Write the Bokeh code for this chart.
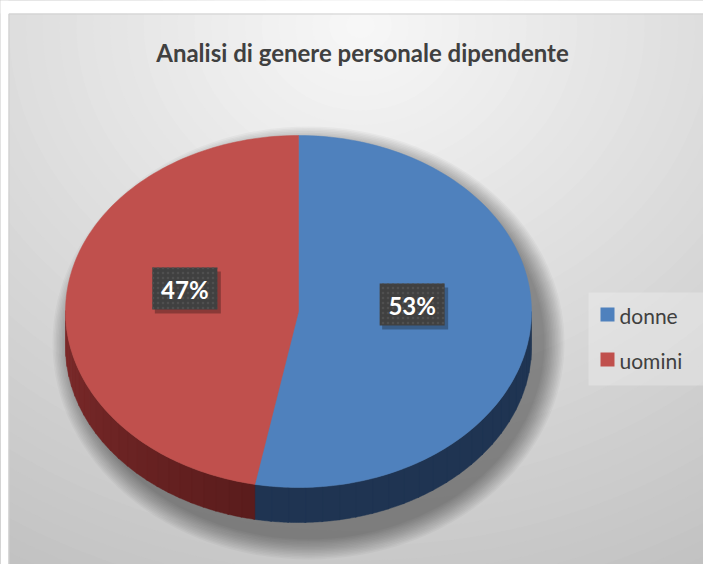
import numpy as np
from bokeh.plotting import figure
from bokeh.models import Range1d, ColumnDataSource
from bokeh.core.properties import value
from bokeh.embed import file_html
from bokeh.resources import INLINE

# ---- data ----
categories = ["donne", "uomini"]
shares = [53, 47]
slice_colors = ["#4f81bd", "#c0504d"]
side_colors = [("#1f3452", "#1f3452"), ("#5a1c1c", "#7e2b2b")]
title_text = "Analisi di genere personale dipendente"

# ---- layout (style) ----
W, H = 703, 564
CX, CY, RX, RY, DEPTH = 298, 311, 233, 176, 35
FONT = "Lato"

p = figure(width=W, height=H, x_range=Range1d(0, W), y_range=Range1d(H, 0),
           output_backend="svg", toolbar_location=None, min_border=0,
           x_axis_location=None, y_axis_location=None)
p.grid.visible = False
p.outline_line_color = None
p.background_fill_color = "white"
p.border_fill_color = "white"


def lerp(c0, c1, t):
    a = [int(c0[i:i + 2], 16) for i in (1, 3, 5)]
    b = [int(c1[i:i + 2], 16) for i in (1, 3, 5)]
    return "#%02x%02x%02x" % tuple(int(round(a[k] + (b[k] - a[k]) * t)) for k in range(3))


# ---- background radial gradient ----
N = 45
ts = np.linspace(1.05, 0.02, N)
p.ellipse(x=[360] * N, y=[25] * N, width=list(2 * 720 * ts), height=list(2 * 620 * ts),
          fill_color=[lerp("#f8f8f8", "#c2c2c2", min(t, 1.0)) for t in ts], line_color=None)
p.quad(left=[0, 0], right=[8, W], bottom=[H, 13], top=[0, 0], fill_color="white", line_color=None)
p.line(x=[8.5, 8.5, W], y=[H, 13.5, 13.5], line_color="#cfcfcf", line_width=1)

# ---- shadow ----
M = 14
for k in range(M):
    g = 1 - k / (M - 1)
    p.ellipse(x=[CX + 10], y=[CY + DEPTH / 2 + 14], width=[2 * RX + 6 + 40 * g],
              height=[2 * RY + DEPTH + 6 + 40 * g], fill_color="black", fill_alpha=0.03, line_color=None)


def arc(a0, a1, n=120):
    th = np.radians(np.linspace(a0, a1, n))
    return CX + RX * np.sin(th), CY - RY * np.cos(th)


total = float(sum(shares))
starts, ends = [], []
acc = 0.0
for s in shares:
    starts.append(acc)
    acc += 360.0 * s / total
    ends.append(acc)

# ---- sides ----
for i in range(len(shares)):
    lo, hi = max(starts[i], 90), min(ends[i], 270)
    if lo >= hi:
        continue
    K = 24
    edges = np.linspace(lo, hi, K + 1)
    xs_all, ys_all, cols = [], [], []
    for k in range(K):
        xa, ya = arc(edges[k], edges[k + 1] + 0.3, 12)
        xs_all.append(list(xa) + list(xa[::-1]))
        ys_all.append(list(ya) + list((ya + DEPTH)[::-1]))
        cols.append(lerp(side_colors[i][0], side_colors[i][1], (k + 0.5) / K))
    p.patches(xs=xs_all, ys=ys_all, fill_color=cols, line_color=cols, line_width=0.5)

# ---- top faces ----
for i in range(len(shares)):
    xa, ya = arc(starts[i], ends[i])
    p.patch(x=[CX] + list(xa), y=[CY] + list(ya), fill_color=slice_colors[i],
            line_color=slice_colors[i], line_width=0.5)

# ---- data labels ----
for i, s in enumerate(shares):
    m = np.radians((starts[i] + ends[i]) / 2)
    lx = CX + 0.49 * RX * np.sin(m)
    ly = CY - 0.49 * RY * np.cos(m) - 15
    p.rect(x=[lx + 3], y=[ly + 4], width=[66], height=[42], fill_color="black", fill_alpha=0.28, line_color=None)
    p.rect(x=[lx], y=[ly], width=[65], height=[42], fill_color="#404040", line_color=None,
           hatch_pattern="dot", hatch_color="#4f4f4f", hatch_scale=5, hatch_weight=1.5)
    p.text(x=[lx], y=[ly + 1], text=[f"{s}%"], text_align="center", text_baseline="middle",
           text_font=value(FONT), text_font_style="bold", text_font_size="24px", text_color="white")

# ---- legend ----
p.quad(left=[588], right=[W], top=[292], bottom=[385], fill_color="white", fill_alpha=0.25, line_color=None)
for i, c in enumerate(categories):
    yy = 314 + i * 45
    p.rect(x=[607], y=[yy], width=[14], height=[14], fill_color=slice_colors[i], line_color=None)
    p.text(x=[619], y=[yy + 1], text=[c], text_align="left", text_baseline="middle",
           text_font=value(FONT), text_font_size="21px", text_color="#404040")

# ---- title ----
p.text(x=[362], y=[52], text=[title_text], text_align="center", text_baseline="middle",
       text_font=value(FONT), text_font_style="bold", text_font_size="24px", text_color="#404040")

open("out.html", "w").write(file_html(p, INLINE))
